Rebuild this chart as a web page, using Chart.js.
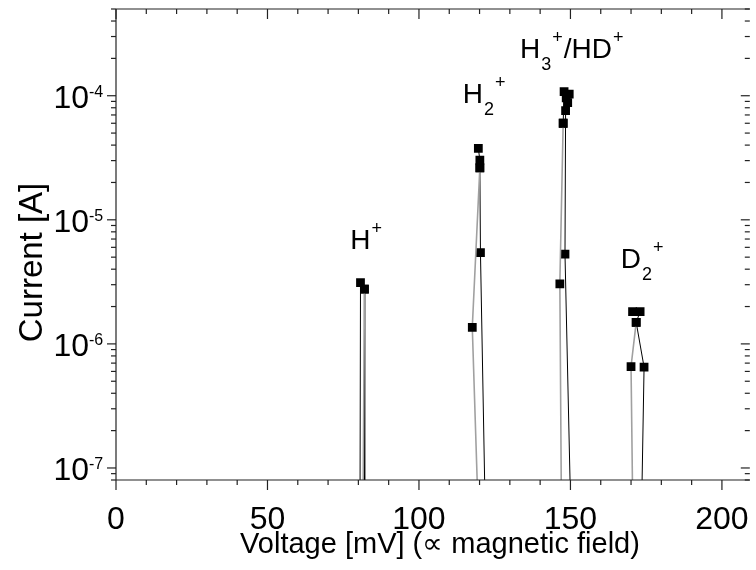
<!DOCTYPE html>
<html>
<head>
<meta charset="utf-8">
<script src="https://cdn.jsdelivr.net/npm/chart.js@4/dist/chart.umd.min.js"></script>
<style>
  html, body { margin: 0; padding: 0; background: #fff; overflow: hidden; }
  canvas { display: block; }
</style>
</head>
<body>
<canvas id="myChart" width="756" height="570"></canvas>
<script>
// scan 1 (black trace), null breaks the line between peaks
var blackVoltage = [80.4, 80.7, 82.0, 82.1, null,
                    119.6, 120.1, 120.1, 120.3, 123.1, null,
                    147.6, 147.9, 148.6, 149.6, 149.1, 148.4, 148.2, 151.6, null,
                    170.5, 173.0, 171.7, 174.3, 172.3];
var blackCurrent = [1e-9, 3.12e-6, 2.76e-6, 1e-9, null,
                    3.76e-5, 3.03e-5, 2.62e-5, 5.45e-6, 1e-9, null,
                    6.0e-5, 1.08e-4, 9.6e-5, 1.03e-4, 8.8e-5, 7.6e-5, 5.28e-6, 1e-9, null,
                    1.82e-6, 1.82e-6, 1.49e-6, 6.5e-7, 1e-9];
// scan 2 (grey trace)
var greyVoltage = [81.1, 82.0, null,
                   120.1, 117.6, 121.7, null,
                   147.6, 146.5, 147.5, null,
                   171.7, 170.0, 171.4];
var greyCurrent = [1e-9, 2.76e-6, null,
                   2.62e-5, 1.36e-6, 1e-9, null,
                   6.0e-5, 3.05e-6, 1e-9, null,
                   1.49e-6, 6.57e-7, 1e-9];

var xTicks = [0, 50, 100, 150, 200];
var yTickExp = [-7, -6, -5, -4];

// peak names: [text, kind] pieces, anchored at voltage / current
var peakLabels = [
  { v: 77.0,  i: 5.8e-6, parts: [['H', ''], ['+', 'sup']] },
  { v: 114.1, i: 8.8e-5, parts: [['H', ''], ['2', 'sub'], ['+', 'sup']] },
  { v: 133.0, i: 2.0e-4, parts: [['H', ''], ['3', 'sub'], ['+', 'sup'], ['/HD', ''], ['+', 'sup']] },
  { v: 166.3, i: 4.1e-6, parts: [['D', ''], ['2', 'sub'], ['+', 'sup']] }
];

function pts(xs, ys) {
  return xs.map(function (v, k) { return { x: v, y: ys[k] }; });
}

var FONT = '"Liberation Sans", Arial, sans-serif';

var decor = {
  id: 'decor',
  afterDraw: function (chart) {
    var ctx = chart.ctx, a = chart.chartArea;
    var x = chart.scales.x, y = chart.scales.y;
    ctx.save();
    ctx.strokeStyle = '#222';
    ctx.lineWidth = 1.2;

    function seg(x1, y1, x2, y2) {
      ctx.beginPath(); ctx.moveTo(x1, y1); ctx.lineTo(x2, y2); ctx.stroke();
    }
    // frame (right side falls off the page)
    seg(a.left, a.top, a.right, a.top);
    seg(a.left, a.top, a.left, a.bottom);
    seg(a.left, a.bottom, a.right, a.bottom);

    // x ticks: out at bottom, in at top
    for (var v = 0; v <= 200; v += 10) {
      var px = x.getPixelForValue(v);
      var len = v % 50 === 0 ? 10 : 5;
      seg(px, a.bottom, px, a.bottom + len);
      seg(px, a.top, px, a.top + len);
    }
    // y ticks (log): out at left, in at right
    for (var e = -8; e <= -3; e++) {
      for (var m = 1; m <= 9; m++) {
        var val = m * Math.pow(10, e);
        if (val < y.min * 0.999 || val > y.max * 1.001) continue;
        var py = y.getPixelForValue(val);
        var l = m === 1 ? 9 : 5;
        seg(a.left - l, py, a.left, py);
        seg(a.right - l, py, a.right, py);
      }
    }

    ctx.fillStyle = '#000';
    ctx.textBaseline = 'alphabetic';
    // x tick labels
    ctx.font = '32px ' + FONT;
    ctx.textAlign = 'center';
    xTicks.forEach(function (t) {
      ctx.fillText(String(t), x.getPixelForValue(t), a.bottom + 49);
    });
    // y tick labels 10^n
    yTickExp.forEach(function (n) {
      var py = y.getPixelForValue(Math.pow(10, n));
      ctx.font = '32px ' + FONT;
      ctx.textAlign = 'right';
      ctx.fillText('10', a.left - 27, py + 12);
      ctx.font = '16px ' + FONT;
      ctx.textAlign = 'left';
      ctx.fillText(String(n), a.left - 27, py + 1);
    });
    // axis titles
    ctx.textAlign = 'center';
    ctx.font = '29px ' + FONT;
    ctx.fillText('Voltage [mV] (\u221D magnetic field)', 440, a.bottom + 73);
    ctx.save();
    ctx.translate(42, (a.top + a.bottom) / 2 + 18);
    ctx.rotate(-Math.PI / 2);
    ctx.font = '33px ' + FONT;
    ctx.fillText('Current [A]', 0, 0);
    ctx.restore();

    // peak labels
    ctx.textAlign = 'left';
    peakLabels.forEach(function (lab) {
      var cx = x.getPixelForValue(lab.v);
      var by = y.getPixelForValue(lab.i);
      lab.parts.forEach(function (p) {
        var dy = 0;
        if (p[1] === 'sub') { ctx.font = '18px ' + FONT; dy = 12; }
        else if (p[1] === 'sup') { ctx.font = '18px ' + FONT; dy = -15; }
        else { ctx.font = '28px ' + FONT; }
        ctx.fillText(p[0], cx + 1, by + dy);
        cx += ctx.measureText(p[0]).width + 1;
      });
    });
    ctx.restore();
  }
};

function scanSet(xs, ys, colour, width) {
  return {
    data: pts(xs, ys),
    showLine: true,
    borderColor: colour,
    borderWidth: width,
    pointStyle: 'rect',
    pointRadius: 6.2,
    pointBorderWidth: 0,
    pointBackgroundColor: '#000',
    spanGaps: false
  };
}

new Chart(document.getElementById('myChart'), {
  type: 'scatter',
  data: {
    datasets: [
      scanSet(greyVoltage, greyCurrent, '#a0a0a0', 1.6),
      scanSet(blackVoltage, blackCurrent, '#000', 1)
    ]
  },
  options: {
    responsive: false,
    animation: false,
    events: [],
    layout: { padding: { left: 116, top: 9, right: 0, bottom: 90 } },
    plugins: { legend: { display: false }, tooltip: { enabled: false } },
    scales: {
      x: { type: 'linear', min: 0, max: 209.2, display: false },
      y: { type: 'logarithmic', min: 8e-8, max: 5e-4, display: false }
    }
  },
  plugins: [decor]
});
</script>
</body>
</html>
